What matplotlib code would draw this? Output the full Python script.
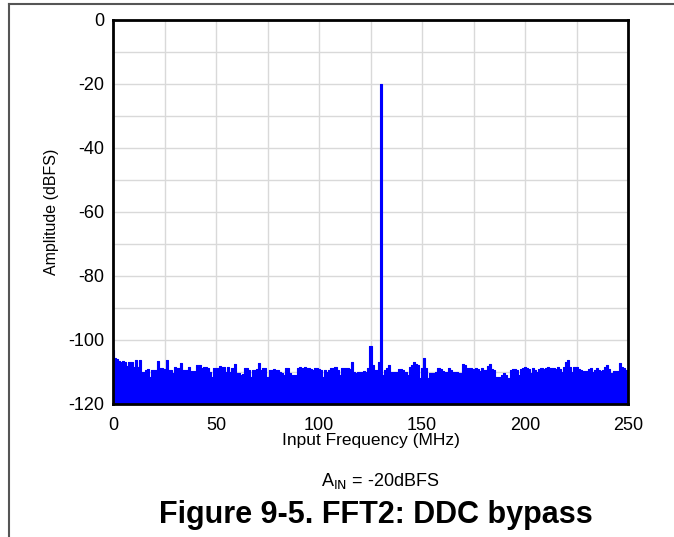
import numpy as np
import matplotlib
matplotlib.use("Agg")
import matplotlib.pyplot as plt
from matplotlib.lines import Line2D

plt.rcParams['font.family'] = ['Liberation Sans', 'DejaVu Sans']
plt.rcParams['axes.unicode_minus'] = False

# Frequency bins (MHz), 1 MHz spacing
freq_mhz = list(range(0, 251))

# Amplitude (dBFS)
amplitude_dbfs = [
    -103.0, -105.5, -106.0, -106.5, -107.0, -106.5, -107.0, -108.0, -107.0, -107.0,
    -108.3, -106.3, -108.3, -106.3, -110.0, -110.0, -109.5, -109.0, -111.5, -109.4,
    -109.4, -109.4, -106.5, -108.8, -108.8, -109.0, -106.3, -109.4, -109.4, -110.4,
    -108.3, -108.8, -108.8, -107.3, -109.4, -109.4, -109.4, -108.3, -109.7, -109.7,
    -109.7, -107.8, -107.8, -108.8, -108.3, -108.3, -108.8, -109.9, -111.5, -108.8,
    -108.8, -108.8, -108.0, -108.3, -108.3, -109.9, -108.3, -109.9, -108.8, -107.6,
    -110.4, -110.4, -110.9, -110.6, -108.8, -108.8, -109.5, -111.5, -109.4, -109.4,
    -109.0, -107.3, -109.4, -108.8, -108.8, -111.5, -109.4, -109.4, -109.2, -109.4,
    -109.4, -109.9, -110.4, -110.9, -108.8, -108.8, -110.4, -110.9, -110.9, -110.9,
    -108.8, -108.5, -108.8, -108.5, -108.8, -108.8, -109.2, -109.4, -108.8, -108.8,
    -109.0, -109.4, -111.5, -109.4, -109.9, -109.4, -108.8, -108.8, -108.3, -109.5,
    -110.9, -108.8, -108.8, -108.8, -108.8, -109.2, -107.0, -109.9, -110.4, -109.9,
    -109.9, -109.9, -109.7, -109.9, -108.8, -102.0, -107.8, -109.4, -109.4, -106.8,
    -20.0, -110.9, -109.4, -108.8, -107.8, -109.9, -110.1, -110.1, -110.1, -109.0,
    -109.0, -109.4, -109.9, -110.9, -108.3, -107.8, -106.8, -107.5, -107.8, -112.0,
    -108.8, -105.5, -108.8, -112.0, -110.4, -110.4, -110.4, -109.9, -108.6, -109.2,
    -109.7, -110.1, -110.1, -108.8, -109.4, -109.9, -109.9, -109.9, -110.4, -110.4,
    -107.6, -107.8, -108.8, -108.8, -108.8, -109.0, -108.6, -109.2, -109.7, -108.6,
    -109.4, -109.4, -108.0, -107.6, -109.0, -109.4, -111.5, -111.5, -111.5, -110.9,
    -110.2, -111.0, -111.8, -109.5, -109.2, -109.2, -109.5, -110.9, -109.2, -108.8,
    -108.3, -108.8, -109.2, -110.4, -108.6, -109.4, -109.9, -109.2, -108.6, -109.0,
    -108.8, -108.3, -108.8, -108.8, -108.8, -109.0, -108.3, -109.0, -109.9, -108.3,
    -106.8, -106.3, -108.5, -109.9, -108.3, -108.3, -109.0, -109.4, -109.7, -109.7,
    -109.7, -109.2, -108.6, -109.9, -109.4, -108.8, -109.4, -109.7, -109.4, -108.5,
    -107.8, -109.0, -110.4, -109.7, -109.7, -109.7, -107.3, -108.5, -108.8, -109.4,
    -110.9,
]

x_ticks = [0, 50, 100, 150, 200, 250]
y_ticks = [0, -20, -40, -60, -80, -100, -120]

fig = plt.figure(figsize=(6.74, 5.37), dpi=100)
ax = fig.add_axes([113 / 674, 1 - 404 / 537, (628 - 113) / 674, (404 - 20) / 537])

blue = '#0000FF'
ax.fill_between(freq_mhz, amplitude_dbfs, -120, step='mid', color=blue, linewidth=0)
ax.step(freq_mhz, amplitude_dbfs, where='mid', color=blue, linewidth=0.8)

ax.set_xlim(0, 250)
ax.set_ylim(-120, 0)
ax.set_xticks(x_ticks)
ax.set_yticks(y_ticks)
ax.set_xticks(np.arange(0, 251, 25), minor=True)
ax.set_yticks(np.arange(-120, 1, 10), minor=True)
ax.grid(True, which='both', color='#d9d9d9', linewidth=1.0)
ax.set_axisbelow(True)
ax.tick_params(which='both', length=0, labelsize=13)
ax.tick_params(axis='x', pad=9)
ax.tick_params(axis='y', pad=6)

for s in ax.spines.values():
    s.set_linewidth(2.0)
    s.set_color('black')
    s.set_zorder(5)

ax.set_xlabel('Input Frequency (MHz)', fontsize=12.5, labelpad=0)
ax.set_ylabel('Amplitude (dBFS)', fontsize=11.5, labelpad=7)

fig.text(380 / 674, 1 - 481 / 537, r'A$_{\mathrm{IN}}$ = -20dBFS', ha='center', va='center', fontsize=13)
fig.text(376 / 674, 1 - 515 / 537, 'Figure 9-5. FFT2: DDC bypass', ha='center', va='center',
         fontsize=22, fontweight='bold')

# page frame lines
fig.add_artist(Line2D([9 / 674, 1.0], [1 - 4 / 537, 1 - 4 / 537], transform=fig.transFigure,
                      color='#555555', linewidth=1.5))
fig.add_artist(Line2D([9 / 674, 9 / 674], [1 - 4 / 537, 0.0], transform=fig.transFigure,
                      color='#555555', linewidth=1.5))

fig.savefig('out.png', dpi=100)
